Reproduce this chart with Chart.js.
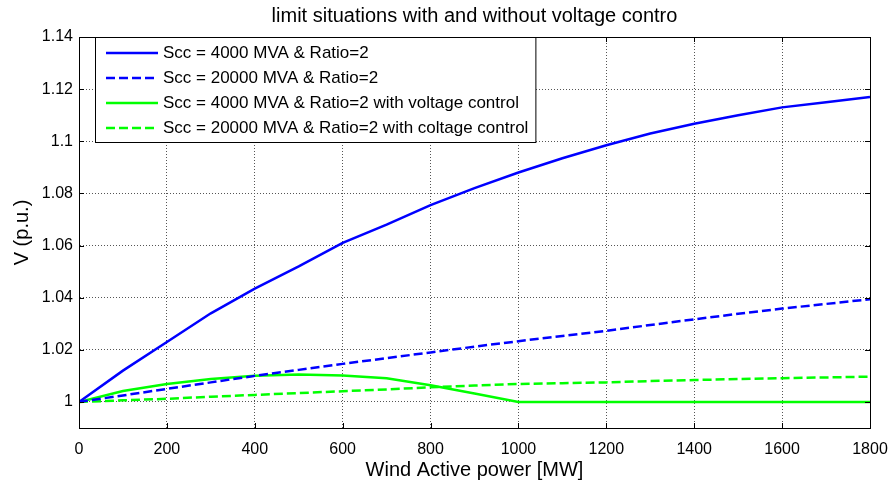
<!DOCTYPE html>
<html>
<head>
<meta charset="utf-8">
<script src="https://cdn.jsdelivr.net/npm/chart.js@4.4.0/dist/chart.umd.min.js"></script>
<style>
  html, body { margin: 0; padding: 0; background: #fff; }
  #wrap { width: 891px; height: 485px; }
</style>
</head>
<body>
<div id="wrap"><canvas id="voltChart"></canvas></div>
<script>
// wind active power [MW]
const windPower = [0, 100, 200, 300, 400, 500, 600, 700, 800, 900, 1000, 1100, 1200, 1300, 1400, 1500, 1600, 1700, 1800];

// V (p.u.) per case
const scc4000 = [1.000, 1.012, 1.023, 1.034, 1.0435, 1.052, 1.061, 1.068, 1.0755, 1.082, 1.088, 1.0935, 1.0985, 1.103, 1.1067, 1.110, 1.113, 1.115, 1.117];
const scc20000 = [1.000, 1.0025, 1.005, 1.0075, 1.010, 1.0123, 1.0146, 1.0168, 1.019, 1.0212, 1.0233, 1.0253, 1.0273, 1.0295, 1.0317, 1.0338, 1.0358, 1.0376, 1.0394];
const scc4000Ctrl = [1.000, 1.0042, 1.0069, 1.0088, 1.0100, 1.0105, 1.0101, 1.0091, 1.0064, 1.0032, 1.000, 1.000, 1.000, 1.000, 1.000, 1.000, 1.000, 1.000, 1.000];
const scc20000Ctrl = [1.000, 1.0006, 1.0012, 1.002, 1.0027, 1.0034, 1.0041, 1.0048, 1.0056, 1.0063, 1.0069, 1.0072, 1.0075, 1.008, 1.0084, 1.0088, 1.0091, 1.0094, 1.0097];

const seriesLabels = [
  'Scc = 4000 MVA & Ratio=2',
  'Scc = 20000 MVA & Ratio=2',
  'Scc = 4000 MVA & Ratio=2 with voltage control',
  'Scc = 20000 MVA & Ratio=2 with coltage control'
];

const chartTitle = 'limit situations with and without voltage contro';

const yTicks = [1, 1.02, 1.04, 1.06, 1.08, 1.1, 1.12, 1.14];
const yTickLabels = ['1', '1.02', '1.04', '1.06', '1.08', '1.1', '1.12', '1.14'];

const FONT = 'Liberation Sans, Arial, sans-serif';
const DASH = [9, 4];

const toPoints = (ys) => windPower.map((x, i) => ({ x: x, y: ys[i] }));

// title over the plot, box frame with inward tick marks, legend inside the plot
const frameLegend = {
  id: 'frameLegend',
  afterDraw(chart) {
    const { ctx, chartArea: a, scales } = chart;
    ctx.save();

    ctx.fillStyle = '#000';
    ctx.font = '20px ' + FONT;
    ctx.textAlign = 'center';
    ctx.textBaseline = 'middle';
    ctx.fillText(chartTitle, (a.left + a.right) / 2, 16);

    ctx.strokeStyle = '#000';
    ctx.lineWidth = 1;
    ctx.setLineDash([]);
    ctx.strokeRect(a.left + 0.5, a.top + 0.5, a.right - a.left, a.bottom - a.top);
    const tl = 5;
    ctx.beginPath();
    scales.x.ticks.forEach(t => {
      const px = Math.round(scales.x.getPixelForValue(t.value)) + 0.5;
      ctx.moveTo(px, a.bottom); ctx.lineTo(px, a.bottom - tl);
      ctx.moveTo(px, a.top); ctx.lineTo(px, a.top + tl);
    });
    scales.y.ticks.forEach(t => {
      const py = Math.round(scales.y.getPixelForValue(t.value)) + 0.5;
      ctx.moveTo(a.left, py); ctx.lineTo(a.left + tl, py);
      ctx.moveTo(a.right, py); ctx.lineTo(a.right - tl, py);
    });
    ctx.stroke();

    // legend
    ctx.font = '17px ' + FONT;
    const ds = chart.data.datasets;
    const maxW = Math.max(...ds.map(d => ctx.measureText(d.label).width));
    const bx = a.left + 16, by = a.top;
    const rowH = 25;
    const bw = 68 + maxW + 7, bh = ds.length * rowH + 5;
    ctx.fillStyle = '#fff';
    ctx.fillRect(bx, by, bw, bh);
    ctx.strokeStyle = '#000';
    ctx.strokeRect(bx + 0.5, by + 0.5, bw, bh);
    ds.forEach((d, i) => {
      const cy = by + 16 + i * rowH;
      ctx.beginPath();
      ctx.strokeStyle = d.borderColor;
      ctx.lineWidth = 2.5;
      ctx.setLineDash(d.borderDash || []);
      ctx.moveTo(bx + 11, cy);
      ctx.lineTo(bx + 63, cy);
      ctx.stroke();
      ctx.setLineDash([]);
      ctx.fillStyle = '#000';
      ctx.textBaseline = 'middle';
      ctx.textAlign = 'left';
      ctx.fillText(d.label, bx + 68, cy);
    });
    ctx.restore();
  }
};

new Chart(document.getElementById('voltChart'), {
  type: 'line',
  data: {
    datasets: [
      { label: seriesLabels[0], data: toPoints(scc4000), borderColor: '#0000ff', borderWidth: 2.5 },
      { label: seriesLabels[1], data: toPoints(scc20000), borderColor: '#0000ff', borderWidth: 2.5, borderDash: DASH },
      { label: seriesLabels[2], data: toPoints(scc4000Ctrl), borderColor: '#00ff00', borderWidth: 2.5 },
      { label: seriesLabels[3], data: toPoints(scc20000Ctrl), borderColor: '#00ff00', borderWidth: 2.5, borderDash: DASH }
    ]
  },
  options: {
    responsive: true,
    maintainAspectRatio: false,
    animation: false,
    devicePixelRatio: 1,
    layout: { padding: { left: 0, right: 21, top: 37, bottom: 0 } },
    elements: { point: { radius: 0 }, line: { tension: 0, fill: false } },
    plugins: {
      legend: { display: false },
      tooltip: { enabled: false },
      title: { display: false }
    },
    scales: {
      x: {
        type: 'linear',
        min: 0,
        max: 1800,
        ticks: {
          stepSize: 200, color: '#000', padding: 12, maxRotation: 0,
          font: { family: FONT, size: 16 },
          callback: (v) => String(v)
        },
        grid: { color: '#555', drawTicks: false },
        border: { display: true, color: '#000', dash: [1, 2] },
        title: { display: true, text: 'Wind Active power [MW]', color: '#000', font: { family: FONT, size: 20 }, padding: { top: 0, bottom: 3 } },
        afterFit: (s) => { s.height = 57; s.paddingRight = 0; s.paddingLeft = 0; }
      },
      y: {
        min: 0.99,
        max: 1.14,
        afterBuildTicks: (s) => { s.ticks = yTicks.map(v => ({ value: v })); },
        ticks: {
          color: '#000',
          padding: 6,
          font: { family: FONT, size: 16 },
          callback: (v) => { const i = yTicks.findIndex(t => Math.abs(t - v) < 1e-9); return i >= 0 ? yTickLabels[i] : ''; }
        },
        grid: { color: '#555', drawTicks: false },
        border: { display: true, color: '#000', dash: [1, 2] },
        title: { display: true, text: 'V (p.u.)', color: '#000', font: { family: FONT, size: 20 }, padding: { top: 10, bottom: 0 } },
        afterFit: (s) => { s.width = 79; }
      }
    }
  },
  plugins: [frameLegend]
});
</script>
</body>
</html>
